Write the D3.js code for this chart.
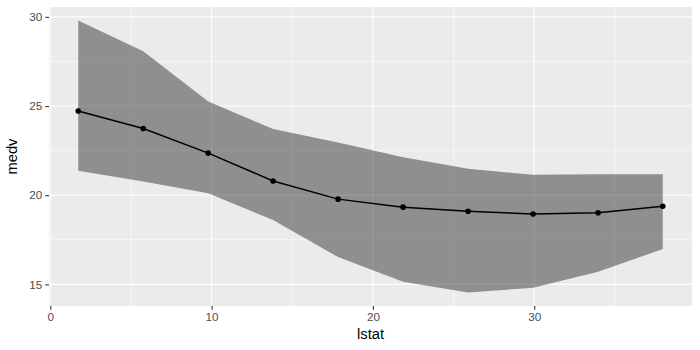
<!DOCTYPE html>
<html>
<head>
<meta charset="utf-8">
<script src="https://cdn.jsdelivr.net/npm/d3@7"></script>
<style>
  body { margin: 0; background: #fff; }
  svg text { font-family: "Liberation Sans", Arial, sans-serif; }
</style>
</head>
<body>
<svg id="chart" width="700" height="350"></svg>
<script>
// binned lstat midpoints
const lstat = [1.73, 5.76, 9.79, 13.81, 17.84, 21.87, 25.9, 29.93, 33.96, 37.97];
// mean medv per bin
const medv = [24.72, 23.74, 22.36, 20.8, 19.78, 19.33, 19.1, 18.95, 19.02, 19.38];
// ribbon bounds
const lower = [21.37, 20.77, 20.11, 18.61, 16.53, 15.15, 14.55, 14.81, 15.71, 16.98];
const upper = [29.79, 28.07, 25.26, 23.71, 22.96, 22.13, 21.48, 21.14, 21.18, 21.18];

const xTicks = [0, 10, 20, 30];
const xMinor = [5, 15, 25, 35];
const yTicks = [15, 20, 25, 30];
const yMinor = [17.5, 22.5, 27.5];

const data = lstat.map((d, i) => ({x: d, y: medv[i], lo: lower[i], hi: upper[i]}));

var svg = d3.select("#chart"),
    margin = {top: 7, right: 8, bottom: 44, left: 49},
    width = 700 - margin.left - margin.right,
    height = 350 - margin.top - margin.bottom;

// ggplot style 5% expansion
var xr = d3.extent(lstat), xp = (xr[1] - xr[0]) * 0.05;
var yr = [d3.min(lower), d3.max(upper)], yp = (yr[1] - yr[0]) * 0.05;

var x = d3.scaleLinear().domain([xr[0] - xp, xr[1] + xp]).range([0, width]);
var y = d3.scaleLinear().domain([yr[0] - yp, yr[1] + yp]).range([height, 0]);

var g = svg.append("g")
    .attr("transform", "translate(" + margin.left + "," + margin.top + ")");

// panel
g.append("rect").attr("width", width).attr("height", height).attr("fill", "#ebebeb");

// minor grid
g.selectAll(".xminor").data(xMinor).enter().append("line")
    .attr("x1", d => x(d)).attr("x2", d => x(d)).attr("y1", 0).attr("y2", height)
    .attr("stroke", "#fff").attr("stroke-width", 0.55);
g.selectAll(".yminor").data(yMinor).enter().append("line")
    .attr("y1", d => y(d)).attr("y2", d => y(d)).attr("x1", 0).attr("x2", width)
    .attr("stroke", "#fff").attr("stroke-width", 0.55);

// major grid
g.selectAll(".xmajor").data(xTicks).enter().append("line")
    .attr("x1", d => x(d)).attr("x2", d => x(d)).attr("y1", 0).attr("y2", height)
    .attr("stroke", "#fff").attr("stroke-width", 1.1);
g.selectAll(".ymajor").data(yTicks).enter().append("line")
    .attr("y1", d => y(d)).attr("y2", d => y(d)).attr("x1", 0).attr("x2", width)
    .attr("stroke", "#fff").attr("stroke-width", 1.1);

// ribbon
g.append("path")
    .datum(data)
    .attr("fill", "#333333")
    .attr("fill-opacity", 0.5)
    .attr("d", d3.area().x(d => x(d.x)).y0(d => y(d.lo)).y1(d => y(d.hi)));

// line
g.append("path")
    .datum(data)
    .attr("fill", "none")
    .attr("stroke", "#000")
    .attr("stroke-width", 1.5)
    .attr("d", d3.line().x(d => x(d.x)).y(d => y(d.y)));

// points
g.selectAll(".pt").data(data).enter().append("circle")
    .attr("cx", d => x(d.x)).attr("cy", d => y(d.y)).attr("r", 2.8)
    .attr("fill", "#000");

// axes
var xAxis = g.append("g")
    .attr("transform", "translate(0," + height + ")")
    .call(d3.axisBottom(x).tickValues(xTicks).tickSize(3.7).tickPadding(3));
var yAxis = g.append("g")
    .call(d3.axisLeft(y).tickValues(yTicks).tickSize(3.7).tickPadding(3));

[xAxis, yAxis].forEach(a => {
    a.select(".domain").remove();
    a.selectAll(".tick line").attr("stroke", "#333").attr("stroke-width", 1.1);
    a.selectAll(".tick text").attr("fill", "#4d4d4d").style("font-size", "11.7px");
});

// axis titles
svg.append("text")
    .attr("x", margin.left + width / 2)
    .attr("y", 339)
    .attr("text-anchor", "middle")
    .style("font-size", "14.7px")
    .attr("fill", "#000")
    .text("lstat");

svg.append("text")
    .attr("transform", "translate(17," + (margin.top + height / 2) + ") rotate(-90)")
    .attr("text-anchor", "middle")
    .style("font-size", "14.7px")
    .attr("fill", "#000")
    .text("medv");
</script>
</body>
</html>
